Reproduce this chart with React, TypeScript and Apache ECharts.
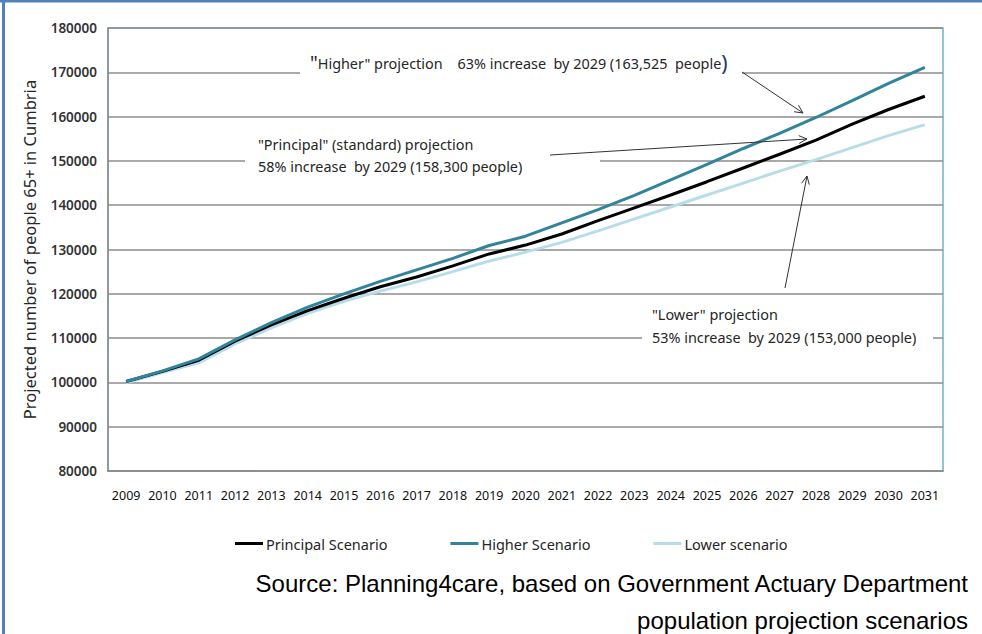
import React, { useEffect, useRef } from "react";
import * as echarts from "echarts";

const years = ["2009","2010","2011","2012","2013","2014","2015","2016","2017","2018","2019","2020","2021","2022","2023","2024","2025","2026","2027","2028","2029","2030","2031"];
const principal = [100200, 102500, 105000, 109300, 113000, 116200, 119000, 121600, 123800, 126300, 129000, 131000, 133500, 136500, 139400, 142300, 145300, 148400, 151500, 154700, 158300, 161600, 164600];
const higher = [100200, 102600, 105300, 109600, 113500, 117000, 120000, 122800, 125400, 128000, 130900, 133000, 136000, 139000, 142200, 145700, 149200, 152800, 156200, 159800, 163600, 167500, 171100];
const lower = [99900, 102200, 104400, 108700, 112300, 115600, 118300, 120600, 122700, 125000, 127400, 129400, 131600, 134200, 136900, 139600, 142300, 145000, 147700, 150300, 153000, 155700, 158200];
const seriesNames = ["Principal Scenario", "Higher Scenario", "Lower scenario"];
const yTitle = "Projected number of people 65+ in Cumbria";
const sourceLines = ["Source: Planning4care, based on Government Actuary Department", "population projection scenarios"];

const FONT = "Noto Sans";
const TXT = "#262626";
const AFS = 14.4;

function arrow(x1: number, y1: number, x2: number, y2: number) {
  const ang = Math.atan2(y2 - y1, x2 - x1);
  const L = 9, W = 0.45;
  const a = { x: x2 - L * Math.cos(ang - W), y: y2 - L * Math.sin(ang - W) };
  const b = { x: x2 - L * Math.cos(ang + W), y: y2 - L * Math.sin(ang + W) };
  return [
    { type: "line", z: 20, shape: { x1, y1, x2, y2 }, style: { stroke: "#333", lineWidth: 1 } },
    { type: "polyline", z: 20, shape: { points: [[a.x, a.y], [x2, y2], [b.x, b.y]] }, style: { stroke: "#333", lineWidth: 1, fill: null } },
  ];
}

export default function App() {
  const ref = useRef<HTMLDivElement>(null);
  useEffect(() => {
    if (!ref.current) return;
    const chart = echarts.init(ref.current, undefined, { renderer: "svg" });
    chart.setOption({
      animation: false,
      backgroundColor: "#fff",
      grid: { left: 108, right: 39, top: 28, bottom: 163, show: true, borderColor: "#6FB3C4", borderWidth: 1.5, backgroundColor: "transparent" },
      legend: {
        data: seriesNames,
        left: 230,
        top: 531,
        icon: "rect",
        itemWidth: 28,
        itemHeight: 3,
        itemGap: 63,
        itemStyle: { borderWidth: 0 },
        textStyle: { fontFamily: FONT, fontSize: 14.5, color: TXT, padding: [0, 0, 0, -2] },
      },
      xAxis: {
        type: "category",
        data: years,
        boundaryGap: true,
        axisLine: { show: true, lineStyle: { color: "#8c8c8c", width: 1.5 } },
        axisTick: { show: false },
        axisLabel: { fontFamily: FONT, fontSize: 12.5, color: "#111", margin: 18, interval: 0 },
      },
      yAxis: {
        type: "value",
        min: 80000,
        max: 180000,
        interval: 10000,
        name: yTitle,
        nameLocation: "middle",
        nameGap: 70,
        nameTextStyle: { fontFamily: FONT, fontSize: 16.5, color: TXT },
        axisLine: { show: true, lineStyle: { color: "#8c8c8c", width: 1.5 } },
        axisTick: { show: false },
        axisLabel: { fontFamily: FONT, fontSize: 13.5, color: "#333", margin: 11, fontWeight: 600, formatter: (v: number) => String(v) },
        splitLine: { lineStyle: { color: "#8c8c8c", width: 1.5 } },
      },
      series: [
        { name: seriesNames[0], type: "line", data: principal, symbol: "none", z: 3, lineStyle: { color: "#000", width: 3 }, itemStyle: { color: "#000" } },
        { name: seriesNames[1], type: "line", data: higher, symbol: "none", z: 4, lineStyle: { color: "#31849B", width: 3 }, itemStyle: { color: "#31849B" } },
        { name: seriesNames[2], type: "line", data: lower, symbol: "none", z: 2, lineStyle: { color: "#B7DEE8", width: 3 }, itemStyle: { color: "#B7DEE8" } },
      ],
      graphic: [
        { type: "rect", z: 0, shape: { x: 0, y: 0, width: 982, height: 2.5 }, style: { fill: "#4F81BD" } },
        { type: "rect", z: 0, shape: { x: 2, y: 0, width: 3, height: 634 }, style: { fill: "#4F81BD" } },
        { type: "rect", z: 1, shape: { x: 300, y: 50, width: 442, height: 28 }, style: { fill: "#fff" } },
        { type: "rect", z: 1, shape: { x: 245, y: 128, width: 355, height: 48 }, style: { fill: "#fff" } },
        { type: "rect", z: 1, shape: { x: 642, y: 300, width: 291, height: 48 }, style: { fill: "#fff" } },
        {
          type: "text", z: 10, x: 310, y: 63,
          style: {
            text: "{q|\"}Higher\" projection    63% increase  by 2029 (163,525  people{p|)}",
            fontFamily: FONT, fontSize: AFS, fill: TXT, textVerticalAlign: "middle",
            rich: { q: { fontFamily: FONT, fontSize: 19, fill: TXT }, p: { fontFamily: FONT, fontSize: 21, fill: "#1F3864" } },
          },
        },
        { type: "text", z: 10, x: 258, y: 144, style: { text: "\"Principal\" (standard) projection", fontFamily: FONT, fontSize: AFS, fill: TXT, textVerticalAlign: "middle" } },
        { type: "text", z: 10, x: 258, y: 166, style: { text: "58% increase  by 2029 (158,300 people)", fontFamily: FONT, fontSize: AFS, fill: TXT, textVerticalAlign: "middle" } },
        { type: "text", z: 10, x: 652, y: 314, style: { text: "\"Lower\" projection", fontFamily: FONT, fontSize: AFS, fill: TXT, textVerticalAlign: "middle" } },
        { type: "text", z: 10, x: 652, y: 337, style: { text: "53% increase  by 2029 (153,000 people)", fontFamily: FONT, fontSize: AFS, fill: TXT, textVerticalAlign: "middle" } },
        ...arrow(742, 72, 803, 113),
        ...arrow(550, 155, 807, 139),
        ...arrow(785, 288, 807, 176),
        { type: "text", z: 10, x: 968, y: 583, style: { text: sourceLines[0], fontFamily: "Liberation Sans", fontSize: 24, fill: "#000", textAlign: "right", textVerticalAlign: "middle" } },
        { type: "text", z: 10, x: 968, y: 620, style: { text: sourceLines[1], fontFamily: "Liberation Sans", fontSize: 24, fill: "#000", textAlign: "right", textVerticalAlign: "middle" } },
      ],
    });
    return () => chart.dispose();
  }, []);
  return <div ref={ref} style={{ position: "fixed", left: 0, top: 0, width: 982, height: 634 }} />;
}
